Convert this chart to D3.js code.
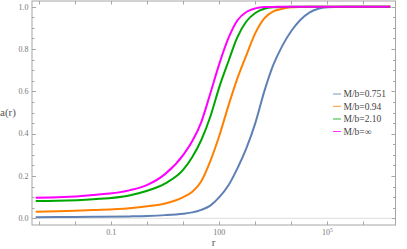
<!DOCTYPE html>
<html><head><meta charset="utf-8">
<script src="https://cdn.jsdelivr.net/npm/d3@7"></script>
<style>body{margin:0;background:#fff}svg{display:block}</style>
</head><body><svg id="c" width="407" height="249" font-family="'Liberation Serif', 'Times New Roman', serif"></svg>
<script>
// log10(r) sample points
const logR = [-3.1,-2.5,-1.5,-0.5,0,0.5,1,1.25,1.5,1.75,2,2.25,2.5,2.75,3,3.25,3.5,3.75,4,4.25,4.5,4.75,5,5.5,6,6.75];
const rValues = logR.map(l => Math.pow(10, l));
const seriesNames = ["M/b=0.751","M/b=0.94","M/b=2.10","M/b=\u221e"];
const seriesColors = ["#5E81B5","#FF8000","#00A600","#FF00FF"];
const blueVals   = [0.005,0.006,0.007,0.009,0.011,0.015,0.022,0.028,0.04,0.06,0.10,0.155,0.235,0.33,0.45,0.60,0.725,0.815,0.885,0.937,0.972,0.99,0.997,1,1,1];
const orangeVals = [0.031,0.033,0.039,0.048,0.057,0.07,0.10,0.125,0.175,0.27,0.39,0.53,0.66,0.77,0.875,0.945,0.978,0.99,0.997,0.999,1,1,1,1,1,1];
const greenVals  = [0.082,0.083,0.090,0.108,0.13,0.165,0.23,0.29,0.37,0.48,0.62,0.74,0.855,0.93,0.97,0.99,0.997,0.999,1,1,1,1,1,1,1,1];
const magentaVals= [0.097,0.099,0.110,0.132,0.158,0.21,0.30,0.365,0.455,0.59,0.73,0.85,0.935,0.975,0.992,0.998,0.999,1,1,1,1,1,1,1,1,1];
const seriesVals = [blueVals, orangeVals, greenVals, magentaVals];
const xTickVals = [1e-3,1e-2,1e-1,1,10,100,1e3,1e4,1e5,1e6];
const xTickLabels = [{v:0.1,t:"0.1"},{v:100,t:"100"},{v:1e5,t:"10",sup:"5"}];
const yTickVals = [0,0.2,0.4,0.6,0.8,1.0];
const yTickLabels = ["0.0","0.2","0.4","0.6","0.8","1.0"];

const svg = d3.select("#c");
const x = d3.scaleLog().domain([Math.pow(10,-3.1), Math.pow(10,6.75)]).range([35.7, 390.3]);
const y = d3.scaleLinear().domain([0,1]).range([218.3, 6.7]);
const fl = 32, fr = 395.5, ft = 1, fb = 225;
const frameCol = "#a6a6a6";

// axis line at y=0
svg.append("line").attr("x1", x.range()[0]).attr("x2", x.range()[1])
  .attr("y1", y(0)).attr("y2", y(0)).attr("stroke", "#dcdcdc").attr("stroke-width", 1);

// frame
svg.append("rect").attr("x", fl).attr("y", ft).attr("width", fr-fl).attr("height", fb-ft)
  .attr("fill","none").attr("stroke", frameCol).attr("stroke-width", 1);

// x ticks (bottom & top)
xTickVals.forEach(v => {
  const xx = Math.round(x(v)) + 0.5;
  svg.append("line").attr("x1", xx).attr("x2", xx).attr("y1", fb).attr("y2", fb-3.5).attr("stroke", frameCol);
  svg.append("line").attr("x1", xx).attr("x2", xx).attr("y1", ft).attr("y2", ft+3.5).attr("stroke", frameCol);
});
xTickLabels.forEach(d => {
  const t = svg.append("text").attr("x", x(d.v)).attr("y", 235).attr("text-anchor","middle")
    .attr("font-size", 8).attr("fill", "#777");
  t.append("tspan").text(d.t);
  if (d.sup) t.append("tspan").attr("dy", -3).attr("font-size", 5.5).text(d.sup);
});

// y ticks
d3.range(0, 1.0001, 0.05).forEach(v => {
  const major = Math.abs(v*5 - Math.round(v*5)) < 1e-6;
  const len = major ? 4 : 2.5;
  const yy = Math.round(y(v)) + 0.5;
  svg.append("line").attr("x1", fl).attr("x2", fl+len).attr("y1", yy).attr("y2", yy).attr("stroke", frameCol);
  svg.append("line").attr("x1", fr).attr("x2", fr-len).attr("y1", yy).attr("y2", yy).attr("stroke", frameCol);
});
yTickVals.forEach((v,i) => {
  svg.append("text").attr("x", 28.5).attr("y", y(v)+2.8).attr("text-anchor","end")
    .attr("font-size", 8).attr("fill", "#777").text(yTickLabels[i]);
});

// axis labels
svg.append("text").attr("x", 0).attr("y", 116).attr("font-size", 11).attr("fill", "#555").text("a(r)");
svg.append("text").attr("x", 213.5).attr("y", 246).attr("text-anchor","middle").attr("font-size", 11).attr("fill", "#555").text("r");

// curves
const line = d3.line().curve(d3.curveMonotoneX).x(d => x(d[0])).y(d => y(d[1]));
seriesVals.forEach((vals, i) => {
  svg.append("path").datum(rValues.map((r,j) => [r, vals[j]]))
    .attr("d", line).attr("fill","none").attr("stroke", seriesColors[i]).attr("stroke-width", 2);
});

// legend
const legY = [94, 106.3, 119, 131.5];
seriesNames.forEach((n,i) => {
  svg.append("line").attr("x1", 333).attr("x2", 341).attr("y1", legY[i]).attr("y2", legY[i])
    .attr("stroke", seriesColors[i]).attr("stroke-width", 1).attr("opacity", 0.8);
  svg.append("text").attr("x", 343.5).attr("y", legY[i]+3.3).attr("font-size", 9.5).attr("fill", "#444").text(n);
});
</script></body></html>
